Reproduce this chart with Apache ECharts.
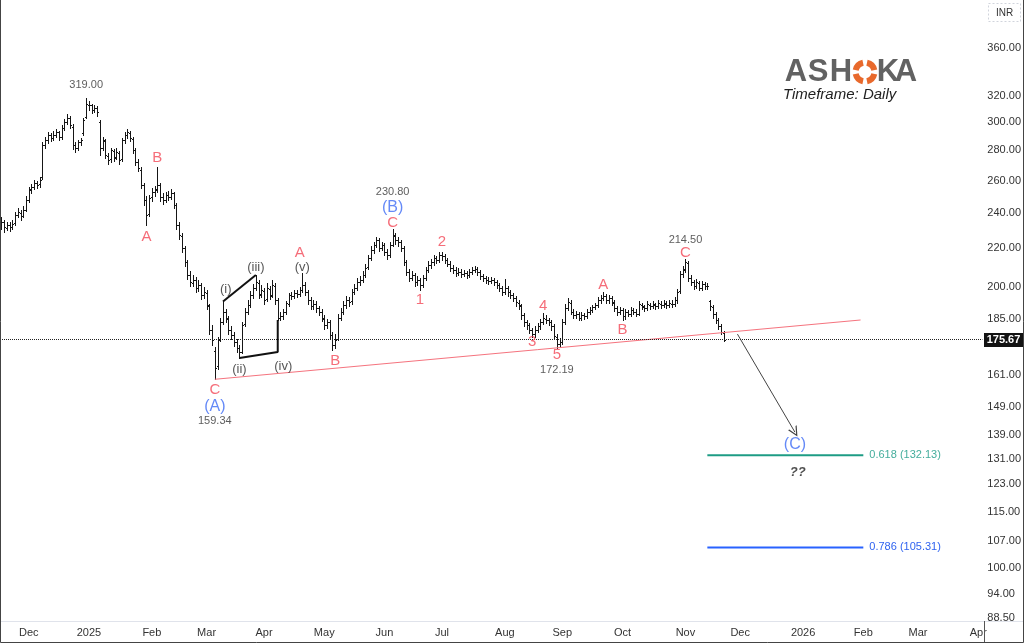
<!DOCTYPE html>
<html>
<head>
<meta charset="utf-8">
<script src="https://cdn.jsdelivr.net/npm/echarts@6/dist/echarts.min.js"></script>
<style>
html,body{margin:0;padding:0;background:#fff}
#chart{width:1024px;height:643px}
</style>
</head>
<body>
<div id="chart"></div>
<script>
// trading days (weekdays) starting here, incl. the empty future part
var startDate = '2024-11-18';
var slotCount = 359;
var monthNames = ['Jan','Feb','Mar','Apr','May','Jun','Jul','Aug','Sep','Oct','Nov','Dec'];
var priceTicks = [88.5,94,100,107,115,123,131,139,149,161,175,185,200,220,240,260,280,300,320,360];

// daily bars: open, high, low, close
var ohlc = [
[232.0,237.5,230.5,234.8],[234.5,236.0,229.0,231.8],[231.5,235.0,230.0,232.8],[233.0,234.5,229.5,231.8],[232.0,236.0,230.5,233.8],
[234.0,240.5,233.0,238.9],[239.0,243.0,237.5,240.6],[240.0,241.5,236.0,238.3],[238.5,244.0,237.5,241.8],[242.0,250.5,241.0,247.8],
[248.0,256.0,246.5,254.0],[254.5,258.0,252.0,255.9],[256.0,260.5,254.5,258.5],[258.5,260.0,255.0,257.2],[257.5,262.5,256.0,260.4],
[262.0,286.0,261.0,283.8],[284.0,289.5,282.0,287.3],[287.5,293.0,285.5,290.9],[291.0,292.5,286.5,288.7],[289.0,293.5,287.5,290.9],
[291.0,295.5,289.5,293.1],[293.0,294.0,287.0,289.4],[289.5,298.0,288.0,295.9],[296.0,302.5,294.5,300.3],[300.5,306.0,299.0,303.3],
[303.0,304.5,296.0,298.1],[297.0,298.5,281.0,283.8],[284.0,286.0,279.0,281.7],[282.0,287.5,280.5,285.9],[286.0,289.0,283.5,287.3],
[292.0,303.3,290.9,301.8],[304.0,319.0,303.0,313.9],[313.5,316.5,309.5,313.2],[313.0,314.0,307.0,309.4],[309.0,313.0,307.5,310.9],
[311.0,312.5,305.0,307.9],[300.0,301.5,276.9,281.7],[282.0,289.5,280.0,287.3],[286.5,288.0,275.0,276.9],[276.0,278.0,271.0,273.5],
[274.0,282.0,272.0,280.3],[279.5,281.0,273.0,274.9],[275.5,281.5,274.0,279.0],[278.5,279.5,270.5,273.5],[274.0,289.0,273.0,287.3],
[287.0,293.0,285.5,290.9],[290.5,295.0,288.5,293.1],[292.5,294.0,286.5,288.7],[288.0,289.5,278.0,280.3],[280.0,281.5,270.0,272.2],
[272.0,274.0,266.0,268.2],[267.0,268.5,255.0,257.2],[257.0,258.5,245.0,247.8],[248.0,250.0,233.0,238.9],[239.5,251.0,238.0,249.0],
[249.5,255.0,247.5,252.8],[253.0,256.5,250.5,254.0],[254.5,268.8,253.0,257.2],[257.0,258.5,247.5,249.7],[249.5,252.0,245.5,247.8],
[248.0,253.0,246.5,250.9],[251.0,253.5,248.0,249.7],[249.5,254.5,248.5,252.1],[252.0,253.0,243.0,244.8],[244.5,246.0,231.0,233.0],
[233.0,235.0,225.0,227.4],[227.0,228.5,218.0,220.2],[220.0,221.5,210.5,212.8],[212.5,214.0,204.0,206.0],[206.0,208.0,200.5,202.5],
[202.0,206.0,200.5,203.5],[203.5,205.0,197.5,199.5],[199.5,203.5,198.0,201.0],[201.0,202.0,194.0,196.1],[196.0,200.0,194.5,197.6],
[197.0,198.5,189.5,191.3],[191.0,192.0,178.0,179.9],[180.0,182.0,173.5,175.5],[171.0,172.5,159.34,163.8],[164.5,177.0,163.5,175.5],
[176.0,185.5,175.0,183.5],[183.5,193.0,182.5,188.1],[188.0,189.5,183.5,185.3],[185.0,186.0,178.0,179.9],[180.0,181.5,176.0,177.7],
[177.5,179.0,173.0,174.7],[174.5,176.0,170.5,172.1],[172.0,173.5,167.9,170.4],[170.5,183.5,170.0,182.1],[182.5,190.0,181.5,188.1],
[188.0,193.5,187.0,191.3],[191.5,198.0,190.5,196.1],[196.0,201.5,194.5,199.5],[199.5,206.0,198.5,202.5],[202.0,203.5,194.5,196.1],
[196.5,201.0,195.0,198.5],[198.0,199.5,192.0,193.7],[194.0,202.0,193.0,199.5],[199.0,200.5,194.0,195.6],[196.0,203.5,195.0,201.0],
[200.5,202.0,192.0,193.7],[193.5,194.5,184.4,185.3],[185.5,188.0,184.5,186.2],[186.0,189.5,185.0,188.1],[188.0,193.0,187.0,192.2],
[192.0,197.0,191.0,196.1],[196.0,197.5,194.0,195.6],[195.5,198.5,194.5,197.1],[197.0,198.5,195.0,196.6],[196.5,200.0,195.5,198.5],
[198.5,207.0,197.5,201.0],[201.0,202.5,196.0,197.6],[197.5,198.5,192.0,193.7],[193.5,195.0,189.5,190.8],[191.0,193.5,189.5,191.8],
[192.0,193.0,188.0,189.9],[190.0,191.0,186.5,188.1],[188.0,189.5,184.0,185.3],[185.0,186.5,180.5,182.1],[182.0,185.0,181.0,183.5],
[183.5,184.5,176.0,177.7],[177.5,179.0,171.3,173.4],[173.5,178.0,172.0,175.5],[176.0,187.0,175.5,185.3],[185.5,190.0,184.5,188.1],
[188.0,193.0,187.0,191.3],[191.5,195.5,190.0,193.7],[193.5,195.0,191.0,192.7],[193.0,199.0,192.0,197.6],[197.5,201.5,196.5,199.5],
[199.5,204.5,198.5,202.5],[202.5,205.5,201.0,203.5],[203.5,208.0,202.5,206.0],[206.0,211.5,205.0,209.6],[210.0,216.5,209.0,214.8],
[215.0,221.0,214.0,219.1],[219.0,223.5,217.5,221.8],[222.0,226.5,220.5,224.6],[224.5,225.5,218.5,220.2],[220.0,223.5,219.0,221.8],
[222.0,223.0,216.5,218.0],[218.0,219.5,214.5,216.4],[216.5,223.5,215.5,221.8],[222.0,230.8,221.0,227.4],[227.0,228.5,222.5,224.6],
[224.5,226.0,221.5,223.5],[223.5,224.5,218.5,220.2],[220.0,221.0,211.0,212.8],[212.5,214.0,206.0,207.6],[207.5,209.0,203.0,204.5],
[204.5,208.0,203.5,206.0],[206.0,207.0,200.5,202.5],[202.5,205.5,201.0,203.5],[203.5,204.5,198.5,201.0],[201.0,206.0,200.0,204.5],
[204.5,210.0,203.5,208.6],[208.5,213.0,207.5,211.2],[211.0,214.5,209.5,212.8],[212.5,216.5,211.0,214.8],[215.0,216.0,212.0,213.8],
[214.0,218.0,212.5,216.4],[216.5,218.0,214.0,215.9],[216.0,217.0,212.0,213.8],[214.0,215.0,210.5,211.7],[211.5,213.0,208.0,209.6],
[209.5,211.0,207.0,208.6],[208.5,210.0,205.5,207.1],[207.0,209.5,206.0,207.6],[207.5,209.0,205.0,206.6],[206.5,208.5,205.5,207.1],
[207.0,208.0,204.5,206.0],[206.0,209.0,205.0,207.6],[207.5,210.0,206.5,208.6],[208.5,210.5,207.5,209.1],[209.0,210.0,206.0,207.6],
[207.5,208.5,204.0,205.5],[205.5,206.5,203.0,204.5],[204.5,205.5,202.0,203.5],[203.5,205.0,201.5,203.0],[203.0,205.0,202.0,203.5],
[203.5,204.5,201.0,202.5],[202.5,203.5,199.5,201.0],[201.0,202.0,198.0,199.5],[199.5,200.5,196.0,197.6],[197.5,204.0,196.5,199.5],
[199.5,200.5,195.5,197.6],[197.5,198.5,194.5,196.1],[196.0,197.0,193.0,194.7],[194.5,195.5,191.0,192.7],[192.5,193.5,189.5,191.3],
[191.0,192.0,185.0,186.7],[186.5,187.5,181.5,183.5],[183.5,184.5,180.5,182.1],[182.0,183.0,178.5,179.9],[180.0,181.0,176.8,178.1],
[178.0,181.5,177.0,179.9],[180.0,183.0,179.0,181.7],[181.5,185.0,180.5,183.5],[183.5,187.6,182.5,185.3],[185.0,186.5,183.0,184.4],
[184.5,185.5,182.0,183.5],[183.5,184.5,180.0,181.7],[181.5,182.5,176.0,177.3],[177.0,178.0,172.19,173.8],[174.0,176.5,172.5,174.7],
[174.5,185.0,174.0,183.5],[183.5,192.0,182.5,189.9],[190.0,194.5,189.0,192.7],[192.5,193.5,187.0,188.1],[188.0,189.5,185.5,186.7],
[186.5,188.5,185.5,187.2],[187.0,188.0,184.5,185.3],[185.5,188.0,184.5,186.7],[186.5,187.5,185.0,186.2],[186.0,189.5,185.5,188.1],
[188.0,190.5,187.0,189.0],[189.0,191.5,188.0,190.4],[190.5,192.5,189.5,191.3],[191.5,195.0,190.5,193.7],[193.5,196.0,192.5,194.7],
[194.5,197.6,193.5,195.6],[195.5,196.5,192.5,193.7],[193.5,196.0,192.5,194.7],[194.5,195.5,191.5,192.7],[192.5,193.5,188.5,189.9],
[190.0,191.0,186.5,188.1],[188.0,190.5,187.0,189.0],[189.0,190.0,184.4,186.2],[186.0,189.5,185.0,188.1],[188.0,189.0,186.0,187.2],
[187.0,190.5,186.0,189.0],[189.0,190.0,187.0,188.1],[188.0,189.5,186.0,187.2],[187.0,193.0,186.5,191.8],[191.5,192.5,189.5,190.8],
[190.5,191.5,188.5,189.9],[190.0,193.0,189.0,191.8],[191.5,192.5,189.5,190.8],[191.0,193.0,190.0,191.8],[191.5,192.5,189.5,190.8],
[191.0,193.5,190.0,192.2],[192.0,193.0,190.0,191.3],[191.5,193.5,190.5,192.2],[192.0,193.0,190.0,191.3],[191.5,193.5,190.5,192.2],
[192.0,193.5,190.5,191.8],[192.0,195.0,191.0,193.7],[193.5,199.0,192.5,197.6],[198.0,208.0,197.0,206.6],[206.5,210.5,205.0,208.6],
[209.0,214.5,207.5,212.8],[212.0,213.0,203.0,204.5],[204.5,206.0,201.0,202.5],[202.5,203.5,199.0,200.5],[200.5,204.0,199.5,202.5],
[202.0,203.0,198.5,199.5],[199.5,203.0,198.5,201.5],[201.5,202.5,199.0,200.5],[200.5,202.0,199.0,200.5],[193.0,193.7,189.0,190.8],
[190.5,191.5,185.5,187.2],[187.0,188.0,183.0,184.4],[184.5,185.5,180.5,181.7],[181.5,182.5,178.0,179.0],[178.5,179.5,175.0,175.67]
];
var lastPrice = 175.67;

// drawings, as [bar index, price]
var trendLine = [[78,159.34],[314,184.4]];
var waveUpper = [[81,193.0],[93,206.0]];
var waveLower = [[87,167.9],[101,170.4],[101,184.4]];
var projArrow = [[269,178.1],[290,139.9]];
var fib618 = [[258,132.13],[315,132.13]];
var fib786 = [[258,105.31],[315,105.31]];

// text tags: text, bar index, price, kind
var tags = [
['319.00',30.9,328.9,'num'],['B',56.5,274.8,'red'],['A',52.5,226.2,'red'],
['(i)',81.7,199.0,'sub'],['(iii)',92.6,210.1,'sub'],['A',109.4,217.5,'red'],['(v)',110.2,210.1,'sub'],
['(ii)',86.8,163.4,'sub'],['(iv)',102.5,164.6,'sub'],['C',78,155.2,'red'],['(A)',78,148.8,'blue'],['159.34',78,143.8,'num'],
['B',122.2,166.7,'red'],['230.80',143.4,252.7,'num'],['(B)',143,243.0,'blue'],['C',143,234.1,'red'],
['2',160.6,223.5,'red'],['1',153.3,193.7,'red'],['4',198.2,190.8,'red'],['3',193.8,174.7,'red'],['5',203,169.1,'red'],
['172.19',203,163.0,'num'],['A',220.1,201.0,'red'],['B',227,179.9,'red'],['214.50',249.7,224.6,'num'],['C',250.1,217.5,'red'],
['(C)',289.9,135.5,'blue'],['??',290.6,126.8,'q']
];

var days = [];
var d = new Date(startDate + 'T00:00:00Z');
while (days.length < slotCount) {
  var wd = d.getUTCDay();
  if (wd !== 0 && wd !== 6) days.push(d.toISOString().slice(0, 10));
  d.setUTCDate(d.getUTCDate() + 1);
}
function monthStart(i) {
  return i > 0 && days[i].slice(5, 7) !== days[i - 1].slice(5, 7);
}

var FONT = '"Liberation Sans", Arial, sans-serif';
var tagStyles = {
  num: {color: '#333', fontSize: 11},
  red: {color: '#f24858', fontSize: 15},
  sub: {color: '#2a2a2a', fontSize: 13},
  blue: {color: '#3d6cf5', fontSize: 16},
  q: {color: '#222', fontSize: 13, fontWeight: 'bold', fontStyle: 'italic'}
};
var tagData = tags.map(function (t) {
  var s = tagStyles[t[3]];
  return {name: t[0], value: [t[1], t[2]], label: Object.assign({fontFamily: FONT}, s)};
});

var chart = echarts.init(document.getElementById('chart'));

function ohlcItem(params, api) {
  var i = api.value(0);
  var o = api.coord([i, api.value(1)]);
  var h = api.coord([i, api.value(2)]);
  var l = api.coord([i, api.value(3)]);
  var c = api.coord([i, api.value(4)]);
  var x = Math.round(o[0]) + 0.5;
  var st = {stroke: '#161616', lineWidth: 1};
  return {
    type: 'group',
    children: [
      {type: 'line', shape: {x1: x, y1: Math.round(h[1]), x2: x, y2: Math.round(l[1]) + 1}, style: st},
      {type: 'line', shape: {x1: x - 1.5, y1: Math.round(o[1]) + 0.5, x2: x, y2: Math.round(o[1]) + 0.5}, style: st},
      {type: 'line', shape: {x1: x, y1: Math.round(c[1]) + 0.5, x2: x + 1.5, y2: Math.round(c[1]) + 0.5}, style: st}
    ]
  };
}

var option = {
  animation: false,
  backgroundColor: '#fff',
  grid: {left: 0, right: 41, top: 0, bottom: 22},
  xAxis: {
    type: 'category',
    data: days,
    boundaryGap: true,
    axisTick: {show: false},
    axisLine: {show: false},
    splitLine: {show: false},
    axisLabel: {
      interval: function (i) { return monthStart(i); },
      formatter: function (v) {
        var m = +v.slice(5, 7);
        return m === 1 ? v.slice(0, 4) : monthNames[m - 1];
      },
      color: '#333', fontSize: 11, fontFamily: FONT, margin: 6
    }
  },
  yAxis: {
    type: 'log',
    logBase: 10,
    position: 'right',
    min: 87.85,
    max: 405.6,
    axisLine: {show: false},
    axisTick: {show: false},
    splitLine: {show: false},
    axisLabel: {
      customValues: priceTicks,
      formatter: function (v) { return (+v).toFixed(2); },
      color: '#333', fontSize: 11, fontFamily: FONT, margin: 5, align: 'left'
    }
  },
  series: [
    {
      type: 'custom',
      renderItem: ohlcItem,
      data: ohlc.map(function (r, i) { return [i, r[0], r[1], r[2], r[3]]; }),
      encode: {x: 0, y: [1, 2, 3, 4]},
      z: 3,
      markLine: {
        silent: true, symbol: 'none', label: {show: false},
        lineStyle: {type: 'dotted', color: '#222', width: 1},
        data: [{yAxis: lastPrice}]
      }
    },
    {type: 'line', data: trendLine, showSymbol: false, lineStyle: {color: '#f5737e', width: 1}, z: 4},
    {type: 'line', data: waveUpper, showSymbol: false, lineStyle: {color: '#111', width: 2}, z: 4},
    {type: 'line', data: waveLower, showSymbol: false, lineStyle: {color: '#111', width: 2}, z: 4},
    {
      type: 'lines', coordinateSystem: 'cartesian2d', z: 4,
      symbol: ['none', 'path://M5,0 L10,10 L8.6,10 L5,2.6 L1.4,10 L0,10 Z'], symbolSize: 10,
      lineStyle: {color: '#444', width: 1, opacity: 1},
      data: [{coords: projArrow}]
    },
    {
      type: 'line', data: fib618, showSymbol: false, lineStyle: {color: '#1e9c85', width: 2}, z: 4,
      endLabel: {show: true, formatter: '0.618 (132.13)', color: '#44ad9c', fontSize: 11, fontFamily: FONT, distance: 6}
    },
    {
      type: 'line', data: fib786, showSymbol: false, lineStyle: {color: '#2962ff', width: 2}, z: 4,
      endLabel: {show: true, formatter: '0.786 (105.31)', color: '#2f63f0', fontSize: 11, fontFamily: FONT, distance: 6}
    },
    {
      type: 'scatter', data: tagData, symbolSize: 0, z: 5, silent: true,
      label: {show: true, position: 'inside', formatter: '{b}'}
    }
  ]
};
chart.setOption(option);

var py = Math.round(chart.convertToPixel({yAxisIndex: 0}, lastPrice));
var ringArcs = [];
[0, 90, 180, 270].forEach(function (a) {
  ringArcs.push({
    type: 'arc', z: 10,
    shape: {cx: 865, cy: 72, r: 9.5, startAngle: (a + 12) * Math.PI / 180, endAngle: (a + 78) * Math.PI / 180},
    style: {stroke: '#e8692c', lineWidth: 6, fill: null}
  });
});
var logoLetters = [['A', 796], ['S', 818], ['H', 841], ['K', 888], ['A', 906]].map(function (p) {
  return {
    type: 'text', z: 10, x: p[1], y: 72,
    style: {text: p[0], fill: '#626262', font: 'bold 31px ' + FONT, align: 'center', verticalAlign: 'middle'}
  };
});

chart.setOption({
  graphic: [
    {type: 'line', z: 10, shape: {x1: 0, y1: 621.5, x2: 1024, y2: 621.5}, style: {stroke: '#e0e3eb', lineWidth: 1}},
    {type: 'line', z: 10, shape: {x1: 984.5, y1: 621, x2: 984.5, y2: 643}, style: {stroke: '#555', lineWidth: 1}},
    {type: 'polyline', z: 10, shape: {points: [[0.5, 0], [0.5, 642.5], [1023.5, 642.5], [1023.5, 0]]}, style: {stroke: '#444', lineWidth: 1, fill: null}},
    {type: 'rect', z: 10, shape: {x: 988.5, y: 3.5, width: 32, height: 18}, style: {fill: '#fff', stroke: '#d1d4dc', lineDash: [2, 2]}},
    {type: 'text', z: 11, x: 1004.5, y: 13, style: {text: 'INR', fill: '#333', font: '10px ' + FONT, align: 'center', verticalAlign: 'middle'}},
    {type: 'rect', z: 10, shape: {x: 984, y: py - 7, width: 39, height: 14}, style: {fill: '#131313'}},
    {type: 'text', z: 11, x: 1003.5, y: py, style: {text: '175.67', fill: '#fff', font: 'bold 11px ' + FONT, align: 'center', verticalAlign: 'middle'}},
    {type: 'text', z: 10, x: 783, y: 95, style: {text: 'Timeframe: Daily', fill: '#222', font: 'italic 500 15px ' + FONT, verticalAlign: 'middle'}}
  ].concat(ringArcs, logoLetters)
});
</script>
</body>
</html>
